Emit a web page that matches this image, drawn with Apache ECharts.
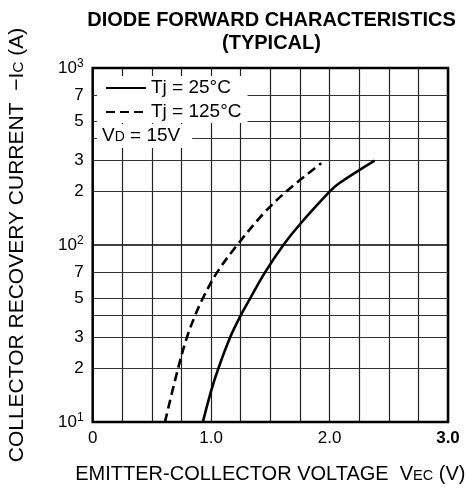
<!DOCTYPE html>
<html>
<head>
<meta charset="utf-8">
<script src="https://cdn.jsdelivr.net/npm/echarts@6/dist/echarts.min.js"></script>
<style>
html,body{margin:0;padding:0;background:#fff;}
#c{width:467px;height:494px;}
</style>
</head>
<body>
<div id="c"></div>
<script>
// ---- data ----
const titleLines = ['DIODE FORWARD CHARACTERISTICS', '(TYPICAL)'];
const seriesNames = ['Tj = 25°C', 'Tj = 125°C'];
const noteText = 'V{s|D} = 15V';
// Tj = 25°C (solid)
const vSolid = [0.93, 1.0, 1.06, 1.16, 1.25, 1.33, 1.455, 1.61, 1.75, 2.0, 2.075, 2.38];
const iSolid = [10, 15, 20, 30, 40, 50, 70, 100, 131, 200, 222, 300];
// Tj = 125°C (dashed)
const vDash = [0.61, 0.72, 0.795, 0.865, 0.93, 1.05, 1.22, 1.44, 1.632, 1.93];
const iDash = [10, 20, 30, 40, 50, 70, 100, 150, 200, 290];
// axes
const xMin = 0, xMax = 3, xStep = 0.25;
const xLabels = {0: '0', 1: '1.0', 2: '2.0', 3: '{b|3.0}'};
const yMin = 10, yMax = 1000;
const yMajorLabels = {10: '10{sup|1}', 100: '10{sup|2}', 1000: '10{sup|3}'};
const yMinorLines = [20, 30, 40, 50, 70, 200, 300, 400, 500, 700];
const yMinorLabels = {20: '2', 30: '3', 50: '5', 70: '7', 200: '2', 300: '3', 500: '5', 700: '7'};

const FONT = "'Liberation Sans', Arial, Helvetica, sans-serif";
const chart = echarts.init(document.getElementById('c'), null, {renderer: 'canvas'});

const minorMarkData = yMinorLines.map(v => ({
  yAxis: v,
  label: {show: !!yMinorLabels[v], formatter: yMinorLabels[v] || ''}
}));

const option = {
  backgroundColor: '#fff',
  animation: false,
  textStyle: {fontFamily: FONT, color: '#000'},
  title: {
    text: titleLines.join('\n'),
    left: 266.5, top: 4, textAlign: 'center',
    textStyle: {fontFamily: FONT, fontSize: 20, fontWeight: 'bold', color: '#000', lineHeight: 23}
  },
  grid: {
    left: 92.7, right: 19, top: 68, bottom: 72,
    containLabel: false, outerBoundsMode: 'none',
    show: true, borderColor: '#000', borderWidth: 2.5, backgroundColor: 'transparent', z: 3
  },
  legend: {
    orient: 'vertical', left: 97, top: 76, z: 10,
    backgroundColor: '#fff', padding: [2, 6, 1, 8],
    itemWidth: 40, itemHeight: 14, itemGap: 4,
    itemStyle: {opacity: 0, borderWidth: 0},
    textStyle: {fontFamily: FONT, fontSize: 19, color: '#000', lineHeight: 20},
    data: seriesNames
  },
  graphic: [{
    type: 'text', left: 97, top: 124, z: 10,
    style: {
      text: noteText,
      fontFamily: FONT, fontSize: 19, fill: '#000',
      backgroundColor: '#fff', padding: [2, 12, 3, 5],
      rich: {s: {fontFamily: FONT, fontSize: 14, verticalAlign: 'bottom', padding: [0,0,1,0]}}
    }
  }],
  xAxis: {
    type: 'value', min: xMin, max: xMax, interval: xStep,
    name: 'EMITTER-COLLECTOR VOLTAGE  V{s|EC} (V)',
    nameLocation: 'middle', nameGap: 42,
    nameTextStyle: {fontFamily: FONT, fontSize: 20, color: '#000',
      rich: {s: {fontFamily: FONT, fontSize: 14.5, verticalAlign: 'bottom', padding: [0,0,1,0]}}},
    axisLine: {show: false},
    axisTick: {show: false},
    axisLabel: {
      margin: 8, fontFamily: FONT, fontSize: 17, color: '#000',
      formatter: v => Math.abs(v - Math.round(v)) < 1e-6 && xLabels[Math.round(v)] !== undefined ? xLabels[Math.round(v)] : '',
      rich: {b: {fontFamily: FONT, fontSize: 17, fontWeight: 'bold', color: '#000'}}
    },
    splitLine: {show: true, lineStyle: {color: '#222', width: 1.2}}
  },
  yAxis: {
    type: 'log', logBase: 10, min: yMin, max: yMax,
    name: 'COLLECTOR RECOVERY CURRENT  −I{s|C} (A)',
    nameLocation: 'middle', nameGap: 65, nameRotate: 90,
    nameTextStyle: {fontFamily: FONT, fontSize: 21, color: '#000',
      rich: {s: {fontFamily: FONT, fontSize: 15.5, verticalAlign: 'bottom', padding: [0,0,1,0]}}},
    axisLine: {show: false},
    axisTick: {show: false},
    axisLabel: {
      margin: 9, fontFamily: FONT, fontSize: 17, color: '#000',
      formatter: v => yMajorLabels[Math.round(v)] || '',
      rich: {sup: {fontFamily: FONT, fontSize: 12, verticalAlign: 'top', padding: [0,0,8,0]}}
    },
    splitLine: {show: true, lineStyle: {color: '#000', width: 1.6}}
  },
  series: [
    {
      name: seriesNames[0], type: 'line', symbol: 'none', smooth: 0.35, z: 5,
      lineStyle: {color: '#000', width: 2.6, type: 'solid'},
      itemStyle: {color: '#000'},
      data: vSolid.map((v, i) => [v, iSolid[i]]),
      markLine: {
        silent: true, symbol: 'none', animation: false,
        lineStyle: {color: '#333', width: 1.2, type: 'solid'},
        label: {position: 'start', distance: 9, fontFamily: FONT, fontSize: 17, color: '#000'},
        emphasis: {disabled: true},
        data: minorMarkData
      }
    },
    {
      name: seriesNames[1], type: 'line', symbol: 'none', smooth: 0.35, z: 5,
      lineStyle: {color: '#000', width: 2.6, type: [9, 5]},
      itemStyle: {color: '#000'},
      data: vDash.map((v, i) => [v, iDash[i]])
    }
  ]
};
chart.setOption(option);
</script>
</body>
</html>
